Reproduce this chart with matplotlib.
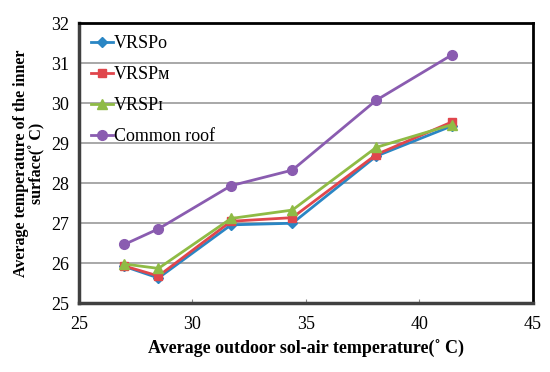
import numpy as np
import matplotlib
matplotlib.use('Agg')
from matplotlib import pyplot as plt

plt.rcParams['font.family'] = ['Liberation Serif', 'DejaVu Serif']

# data
sol_air = [27.0, 28.5, 31.7, 34.4, 38.1, 41.45]
vrsp_o = [25.92, 25.63, 26.96, 27.0, 28.68, 29.44]
vrsp_m = [25.93, 25.68, 27.05, 27.14, 28.72, 29.54]
vrsp_i = [25.98, 25.87, 27.12, 27.33, 28.9, 29.47]
common = [26.47, 26.86, 27.94, 28.33, 30.08, 31.22]

labels = ['VRSP\u1d0f', 'VRSP\u1d0d', 'VRSP\u026a', 'Common roof']
colors = ['#2a86c4', '#e0464c', '#8fbb45', '#8a5cb0']
markers = ['D', 's', '^', 'o']
msizes = [5, 6, 7, 7]

fig = plt.figure(figsize=(5.5, 3.72), dpi=100)
ax = fig.add_axes([0.1436, 0.185, 0.8254, 0.752])

for y, lab, c, m, ms in zip([vrsp_o, vrsp_m, vrsp_i, common], labels, colors, markers, msizes):
    ax.plot(sol_air, y, color=c, marker=m, markersize=ms, linewidth=2, label=lab)

ax.set_xlim(25, 45)
ax.set_ylim(25, 32)
ax.set_xticks(np.arange(25, 46, 5))
ax.set_yticks(np.arange(25, 33, 1))
ax.yaxis.grid(True, color='#999999', linewidth=1.2)
ax.set_axisbelow(True)
ax.tick_params(axis='both', labelsize=13, direction='in', length=3, color='#888888')
ax.tick_params(axis='y', length=0, pad=7)
ax.tick_params(axis='x', pad=9)

for s in ['left', 'bottom']:
    ax.spines[s].set_color('#404040')
    ax.spines[s].set_linewidth(2.5)
for s in ['top', 'right']:
    ax.spines[s].set_color('black')
    ax.spines[s].set_linewidth(2)

ax.set_xlabel('Average outdoor sol-air temperature(\u02da C)', fontsize=13, fontweight='bold', labelpad=5)
ax.set_ylabel('Average temperature of the inner\nsurface(\u02da C)', fontsize=11.5, fontweight='bold',
              labelpad=4, linespacing=1.0)

ax.legend(loc='upper left', bbox_to_anchor=(0.0, 1.0), frameon=False, fontsize=13,
          handlelength=1.25, handletextpad=0.05, labelspacing=0.78, borderaxespad=0.25)

fig.savefig('out.png', dpi=100)
